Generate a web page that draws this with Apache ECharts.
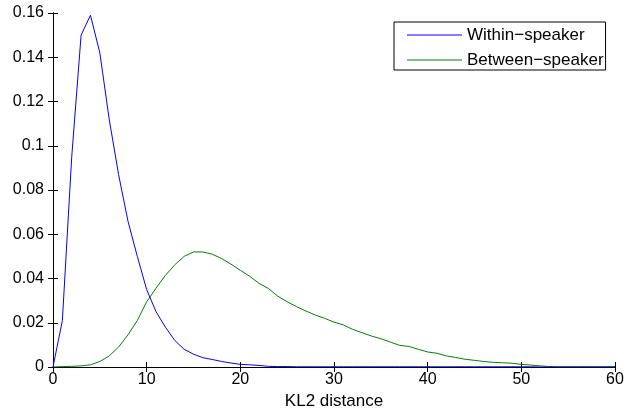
<!DOCTYPE html>
<html><head><meta charset="utf-8">
<script src="https://cdn.jsdelivr.net/npm/echarts@6/dist/echarts.min.js"></script>
<style>html,body{margin:0;padding:0;background:#fff}#c{width:627px;height:418px}</style>
</head><body><div id="c"></div>
<script>
const xValues = [];
for (let i = 0; i <= 60; i++) xValues.push(i);
const withinSpeaker = [0, 0.021, 0.095, 0.150, 0.159, 0.142, 0.112, 0.087, 0.066, 0.050, 0.035, 0.025, 0.018, 0.012, 0.008, 0.0058, 0.0042, 0.0034, 0.0025, 0.0018, 0.0012, 0.001, 0.0007, 0.0003, 0.0002, 0.0002, 0.0001, 0.0001, 0.0001, 0.0001, 0.0001, 0.0001, 0.0001, 0.0001, 0.0001, 0.0001, 0.0001, 0.0001, 0.0001, 0.0001, 0.0001, 0.0001, 0.0001, 0.0001, 0.0001, 0.0001, 0.0001, 0.0001, 0.0001, 0.0001, 0.0001, 0.0001, 0, 0, 0, 0, 0, 0, 0, 0, 0];
const betweenSpeaker = [0, 0.0002, 0.0003, 0.0005, 0.001, 0.0025, 0.005, 0.009, 0.0145, 0.021, 0.0295, 0.0356, 0.0414, 0.0462, 0.050, 0.052, 0.052, 0.051, 0.049, 0.0465, 0.0437, 0.041, 0.0378, 0.0355, 0.032, 0.0295, 0.0273, 0.0253, 0.0235, 0.022, 0.0203, 0.019, 0.017, 0.0155, 0.014, 0.0128, 0.0113, 0.0098, 0.0093, 0.008, 0.0068, 0.0062, 0.005, 0.0043, 0.0035, 0.003, 0.0025, 0.0021, 0.0019, 0.0017, 0.0012, 0.0009, 0.0005, 0.0002, 0.0001, 0.0001, 0.0001, 0.0001, 0.0001, 0.0001, 0.0001];
const seriesNames = ['Within\u2212speaker', 'Between\u2212speaker'];
const xTitle = 'KL2 distance';

const font = 'Liberation Sans, Arial, Helvetica, sans-serif';
const chart = echarts.init(document.getElementById('c'), null, {renderer: 'canvas'});
const axisBase = {
  axisLine: {show: true, lineStyle: {color: '#000', width: 1}},
  axisTick: {show: true, inside: true, length: 5, lineStyle: {color: '#000'}},
  splitLine: {show: false}
};
chart.setOption({
  animation: false,
  backgroundColor: '#fff',
  grid: {left: 53, right: 12, top: 13, bottom: 51},
  legend: {
    data: seriesNames,
    orient: 'vertical',
    left: 394, top: 22,
    backgroundColor: '#fff',
    borderColor: '#000', borderWidth: 1,
    borderRadius: 0,
    padding: [4, 2, 1, 13],
    itemGap: 7,
    icon: 'rect',
    itemWidth: 55, itemHeight: 1,
    textStyle: {fontFamily: font, fontSize: 17, color: '#000', lineHeight: 18}
  },
  xAxis: [
    Object.assign({type: 'value', min: 0, max: 60, interval: 10, position: 'bottom',
      name: xTitle, nameLocation: 'middle', nameGap: 26,
      nameTextStyle: {fontFamily: font, fontSize: 17, color: '#000'},
      axisLabel: {fontFamily: font, fontSize: 16, color: '#000', margin: 5}}, axisBase),
    Object.assign({type: 'value', min: 0, max: 60, interval: 10, position: 'top',
      axisLabel: {show: false}}, axisBase)
  ],
  yAxis: [
    Object.assign({type: 'value', min: 0, max: 0.16, interval: 0.02, position: 'left',
      axisLabel: {fontFamily: font, fontSize: 16, color: '#000', margin: 9,
        formatter: v => (Math.round(v * 100) / 100).toString()}}, axisBase),
    Object.assign({type: 'value', min: 0, max: 0.16, interval: 0.02, position: 'right',
      axisLabel: {show: false}}, axisBase)
  ],
  series: [
    {name: seriesNames[0], type: 'line', symbol: 'none', color: '#0000ff',
      lineStyle: {width: 1, color: '#0000ff'}, z: 3,
      data: xValues.map((x, i) => [x, withinSpeaker[i]])},
    {name: seriesNames[1], type: 'line', symbol: 'none', color: '#008000',
      lineStyle: {width: 1, color: '#008000'}, z: 2,
      data: xValues.map((x, i) => [x, betweenSpeaker[i]])}
  ]
});
</script></body></html>
